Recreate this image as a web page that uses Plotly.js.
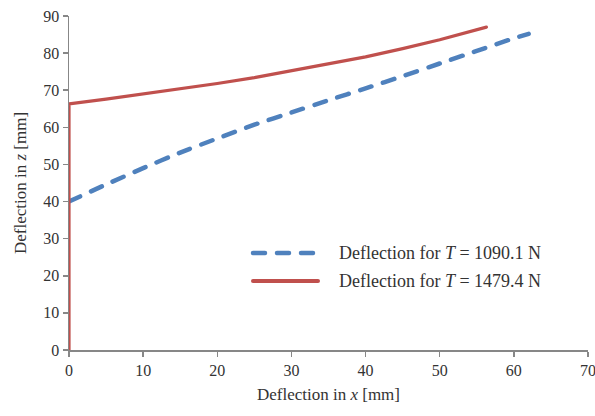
<!DOCTYPE html>
<html>
<head>
<meta charset="utf-8">
<script src="https://cdn.plot.ly/plotly-3.0.1.min.js"></script>
<style>
  html, body { margin: 0; padding: 0; background: #fff; }
  #chart { width: 595px; height: 416px; }
  .js-line, .shapelayer path { stroke-linecap: round; stroke-linejoin: round; }
</style>
</head>
<body>
<div id="chart"></div>
<script>
// Deflection of the cable for two tension values
const xLow = [0, 5, 10, 15, 20, 25, 30, 35, 40, 45, 50, 55, 60, 62];
const zLow = [40, 44.6, 49, 53.2, 57, 60.7, 64, 67.3, 70.5, 73.8, 77.2, 80.6, 84, 85.2];

const xHigh = [0, 0, 5, 10, 15, 20, 25, 30, 35, 40, 45, 50, 56.3];
const zHigh = [0, 66.3, 67.6, 69, 70.3, 71.8, 73.4, 75.2, 77, 79, 81.2, 83.6, 87];

const labelLow = 'Deflection for <i>T</i> = 1090.1 N';
const labelHigh = 'Deflection for <i>T</i> = 1479.4 N';

const blue = '#4F81BD';
const red = '#C0504D';
const axisGrey = '#878787';
const serif = 'Liberation Serif, Times New Roman, serif';

const traces = [
  {
    x: xLow, y: zLow, type: 'scatter', mode: 'lines', name: labelLow,
    line: { color: blue, width: 4.5, dash: '12px,12px', shape: 'spline', smoothing: 0.6 },
    cliponaxis: false, showlegend: false
  },
  {
    x: xHigh, y: zHigh, type: 'scatter', mode: 'lines', name: labelHigh,
    line: { color: red, width: 3.2 },
    cliponaxis: false, showlegend: false
  }
];

// legend key drawn in paper coordinates
const px = v => (v - 69) / 519;
const py = v => (350 - v) / 334;
const legendRows = [
  { text: labelLow, color: blue, width: 4.5, dash: '12px,12px', y: 253 },
  { text: labelHigh, color: red, width: 4, dash: 'solid', y: 281 }
];

const shapes = legendRows.map(r => ({
  type: 'line', xref: 'paper', yref: 'paper',
  x0: px(253), x1: px(318), y0: py(r.y), y1: py(r.y),
  line: { color: r.color, width: r.width, dash: r.dash }
}));

const annotations = legendRows.map(r => ({
  xref: 'paper', yref: 'paper', x: px(337), y: py(r.y),
  xanchor: 'left', yanchor: 'middle', showarrow: false,
  text: r.text, font: { family: serif, size: 18, color: '#333' }
}));

const axisCommon = {
  showgrid: false, zeroline: false, showline: true,
  linecolor: axisGrey, linewidth: 1.5,
  ticks: 'outside', ticklen: 5, tickwidth: 1.5, tickcolor: axisGrey,
  tickfont: { family: serif, size: 16, color: '#333' },
  ticklabeloverflow: 'allow',
  fixedrange: true
};

const layout = {
  width: 595, height: 416,
  margin: { l: 69, r: 7, t: 16, b: 66 },
  paper_bgcolor: '#fff', plot_bgcolor: '#fff',
  showlegend: false,
  xaxis: Object.assign({}, axisCommon, {
    range: [0, 70], dtick: 10,
    title: { text: 'Deflection in <i>x</i> [mm]', font: { family: serif, size: 17, color: '#333' }, standoff: 10 }
  }),
  yaxis: Object.assign({}, axisCommon, {
    range: [0, 90], dtick: 10,
    title: { text: 'Deflection in <i>z</i> [mm]', font: { family: serif, size: 17, color: '#333' }, standoff: 12 }
  }),
  shapes: shapes,
  annotations: annotations
};

Plotly.newPlot('chart', traces, layout, { staticPlot: true, displayModeBar: false });
</script>
</body>
</html>
